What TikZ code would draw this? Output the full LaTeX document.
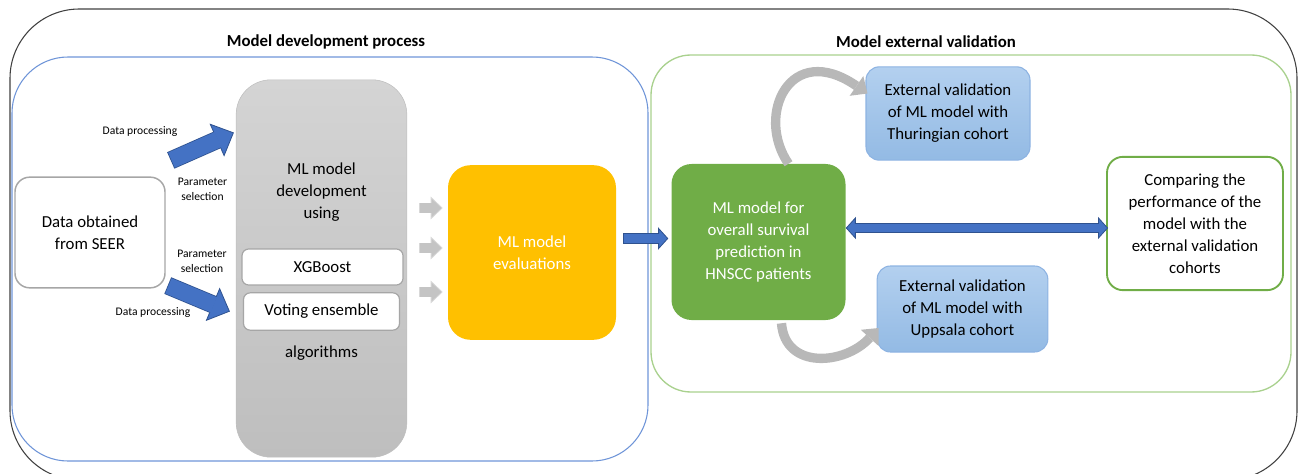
\documentclass[tikz,border=0pt]{standalone}
\usepackage{fontspec}
\setmainfont{Carlito}
\usepackage{tikz}
\usetikzlibrary{arrows.meta,positioning,calc}
\definecolor{frameblue}{HTML}{6F95D8}
\definecolor{framegreen}{HTML}{A9D18E}
\definecolor{boxgray}{HTML}{A6A6A6}
\definecolor{devtop}{HTML}{D4D4D4}
\definecolor{devbot}{HTML}{BEBEBE}
\definecolor{evalyellow}{HTML}{FFC000}
\definecolor{modelgreen}{HTML}{70AD47}
\definecolor{cohorttop}{HTML}{B3D0EF}
\definecolor{cohortbot}{HTML}{93BAE4}
\definecolor{cohortline}{HTML}{8DB3E2}
\definecolor{barfill}{HTML}{4472C4}
\definecolor{barline}{HTML}{2F528F}
\definecolor{curvegray}{HTML}{B8B8B8}
\definecolor{stubfill}{HTML}{C4C4C4}
\definecolor{stubline}{HTML}{D8D8D8}

\begin{document}
\begin{tikzpicture}[x=0.75pt, y=-0.75pt,
    txt/.style={font=\fontsize{12.6}{16.5}\selectfont, align=center},
    lbl/.style={font=\fontsize{8.7}{11.25}\selectfont, align=center},
    heading/.style={font=\bfseries\fontsize{12.6}{15}\selectfont},
    whitebox/.style={txt, draw=boxgray, fill=white, line width=0.9pt, rounded corners=5pt},
    cohort/.style={txt, draw=cohortline, top color=cohorttop, bottom color=cohortbot,
                   line width=0.8pt, rounded corners=10pt},
    fatarrow/.style n args={3}{draw=barline, line width=#1,
        -{Triangle[length=#3, width=#2, line width=0.6pt, fill=barfill]},
        postaction={draw=barfill, line width=#1-1.2pt, -, shorten >=#3-1pt, shorten <=0.6pt}},
    fatboth/.style n args={3}{draw=barline, line width=#1,
        {Triangle[length=#3, width=#2, line width=0.6pt, fill=barfill]}-{Triangle[length=#3, width=#2, line width=0.6pt, fill=barfill]},
        postaction={draw=barfill, line width=#1-1.2pt, -, shorten >=#3-1pt, shorten <=#3-1pt}},
    stubarrow/.style={draw=stubline, line width=8pt,
        -{Triangle[length=9pt, width=17pt, line width=0.6pt, fill=stubfill]},
        postaction={draw=stubfill, line width=6.8pt, -, shorten >=8pt, shorten <=0.6pt}},
    curvearr/.style={draw=curvegray, line width=7pt,
        -{Triangle[length=10pt, width=18pt, line width=0pt]}}]
  \useasboundingbox (0,0) rectangle (1302,474);

  % frames
  \draw[black!75, line width=0.8pt, rounded corners=52pt] (10,9) rectangle (1297,480);
  \draw[frameblue, line width=0.8pt, rounded corners=42pt] (12,57) rectangle (648,461);
  \draw[framegreen, line width=1pt, rounded corners=30pt] (651,55) rectangle (1291,392);
  \node[heading] (devtitle) at (326,42) {Model development process};
  \node[heading] (valtitle) at (926,42) {Model external validation};

  % development side
  \node[whitebox, line width=1.1pt, rounded corners=11pt, minimum width=112.5pt,
        minimum height=83pt] (seer) at (90,232.5) {Data obtained\\from SEER};
  \node[draw=devbot, top color=devtop, bottom color=devbot, rounded corners=26pt,
        minimum width=128pt, minimum height=283pt] (mldev) at (321.5,268.5) {};
  \node[txt] (mltext) at (321.5,192.5) {ML model\\development\\using};
  \node[whitebox, minimum width=120.75pt, minimum height=27pt] (xgb) at (322.5,267) {XGBoost};
  \node[whitebox, minimum width=117pt, minimum height=28pt] (vote) at (321.5,311.5) {Voting ensemble};
  \node[txt] (algtext) at (321.5,353) {algorithms};
  \node[txt, fill=evalyellow, text=white, rounded corners=17pt, minimum width=126pt,
        minimum height=131pt] (eval) at (532,252.5) {ML model\\evaluations};

  \node[lbl] (dp1) at (140,131.5) {Data processing};
  \node[lbl] (ps1) at (202.5,189) {Parameter\\selection};
  \node[lbl] (ps2) at (202,261) {Parameter\\selection};
  \node[lbl] (dp2) at (153,313) {Data processing};

  \draw[fatarrow={13.5pt}{27pt}{14pt}] ($(seer.north east)+(5,-16)$) -- ($(mldev.north west)+(-2,53)$);
  \draw[fatarrow={13.5pt}{27pt}{14pt}] ($(seer.south east)+(2,-3)$) -- ($(mldev.west)+(-6,43)$);
  \foreach \yy in {208,248,292}
    \draw[stubarrow] ($(mldev.east |- 0,\yy)+(12,0)$) -- ($(eval.west |- 0,\yy)+(-5,0)$);

  % validation side
  \node[txt, fill=modelgreen, text=white, rounded corners=15pt, minimum width=130.5pt,
        minimum height=117pt] (mlmodel) at (758.5,242)
        {ML model for\\overall survival\\prediction in\\HNSCC patients};
  \node[cohort, minimum width=123pt, minimum height=70pt] (thur) at (948,113.5)
        {External validation\\of ML model with\\Thuringian cohort};
  \node[cohort, minimum width=128pt, minimum height=64.5pt] (upps) at (962.5,309)
        {External validation\\of ML model with\\Uppsala cohort};
  \node[txt, draw=modelgreen, line width=1.4pt, rounded corners=12pt, minimum width=132pt,
        minimum height=100pt] (cmp) at (1195,223.5)
        {Comparing the\\performance of the\\model with the\\external validation\\cohorts};

  \draw[fatarrow={8pt}{16.5pt}{7.5pt}] ($(eval.east)+(7,-14)$) -- ($(mlmodel.west)+(-3,-3.5)$);
  \draw[fatboth={7.5pt}{16.5pt}{7.5pt}] ($(mlmodel.east)+(0,-14)$) -- ($(cmp.west)+(2,4.5)$);
  \draw[curvearr] ($(mlmodel.north)+(30,0)$) .. controls (755,115) and (790,40) .. ($(thur.west)+(2,-20)$);
  \draw[curvearr] ($(mlmodel.south)+(23,3)$) .. controls (785,370) and (845,365) .. ($(upps.west)+(2,19)$);
\end{tikzpicture}
\end{document}
